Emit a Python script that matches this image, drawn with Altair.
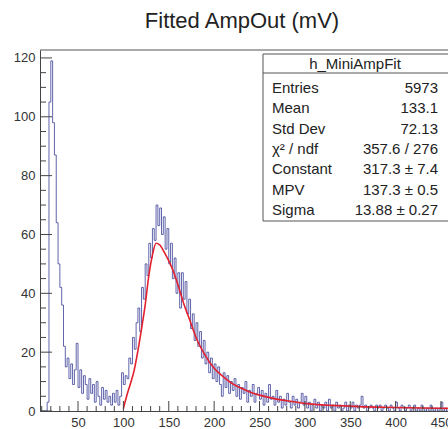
import altair as alt
import pandas as pd

# ---------------- data ----------------
title_text = "Fitted AmpOut (mV)"

bin_start = 8      # left edge of first bin
bin_width = 2
counts = [
    0, 0, 0, 0, 3, 105, 119, 98, 87, 64,
    50, 42, 36, 22, 15, 18, 11, 16, 9, 14,
    23, 8, 14, 6, 12, 9, 4, 11, 6, 9,
    3, 10, 5, 2, 8, 4, 7, 3, 5, 2,
    6, 3, 7, 2, 5, 13, 9, 12, 11, 18,
    16, 25, 21, 30, 35, 27, 42, 38, 50, 46,
    57, 52, 62, 58, 70, 63, 69, 60, 66, 55,
    62, 50, 57, 45, 52, 40, 47, 35, 47, 38,
    44, 33, 38, 28, 33, 24, 30, 22, 27, 18,
    24, 16, 20, 13, 18, 11, 16, 10, 15, 9,
    5, 13, 8, 12, 6, 10, 7, 11, 5, 9,
    4, 8, 6, 10, 3, 7, 5, 9, 3, 6,
    8, 4, 7, 2, 6, 3, 9, 4, 5, 2,
    7, 3, 5, 1, 4, 2, 6, 3, 1, 5,
    2, 4, 1, 3, 6, 2, 5, 1, 3, 0,
    2, 4, 1, 3, 0, 2, 1, 3, 0, 4,
    1, 2, 0, 3, 1, 2, 0, 1, 3, 0,
    2, 1, 3, 0, 2, 1, 2, 5, 1, 2,
    0, 1, 2, 1, 0, 2, 1, 2, 0, 1,
    2, 1, 0, 2, 1, 0, 3, 1, 0, 2,
    1, 0, 1, 2, 0, 1, 2, 0, 1, 0,
    2, 1, 0, 1, 0, 2, 1, 0, 1, 0,
    1, 3, 0, 1, 0,
]

fit_x = [100, 104, 108, 112, 116, 120, 124, 128, 132, 136, 140, 145, 150, 155,
         160, 166, 173, 180, 190, 200, 210, 220, 230, 240, 250, 265, 280, 300,
         330, 360, 400, 430, 458]
fit_y = [0.8, 5.5, 9.5, 14, 20.5, 28, 36, 46, 53, 57, 56.5, 54, 51, 47.5,
         43, 37, 31, 25, 19, 14.5, 11.7, 9.3, 7.7, 6.4, 5.4, 4.3, 3.5, 2.6,
         1.9, 1.5, 1.2, 1.0, 0.9]

x_labels = [50, 100, 150, 200, 250, 300, 350, 400, 450]
y_labels = [0, 20, 40, 60, 80, 100, 120]

stat_name = "h_MiniAmpFit"
stat_labels = ["Entries", "Mean", "Std Dev", "\u03c7\u00b2 / ndf", "Constant", "MPV", "Sigma"]
stat_values = ["5973", "133.1", "72.13", "357.6 / 276", "317.3 \u00b1 7.4",
               "137.3 \u00b1 0.5", "13.88 \u00b1 0.27"]

# ---------------- layout ----------------
W, H = 408, 361
XDOM = [8.1, 457.7]
YDOM = [0, 122.7]
FONT = "Liberation Sans"
AX = "#444444"

xs = alt.Scale(domain=XDOM, nice=False, zero=False)
ys = alt.Scale(domain=YDOM, nice=False, zero=True)

edges = [bin_start + bin_width * i for i in range(len(counts))]
hist_df = pd.DataFrame({"x": edges + [edges[-1] + bin_width],
                        "y": counts + [counts[-1]]})
fit_df = pd.DataFrame({"x": fit_x, "y": fit_y})

hist = alt.Chart(hist_df).mark_line(
    interpolate="step-after", color="#3a3f96", strokeWidth=1, opacity=0.8, clip=True
).encode(
    x=alt.X("x:Q", scale=xs, title=None,
            axis=alt.Axis(values=x_labels, ticks=False, labelFontSize=13, labelFont=FONT,
                          labelColor="#333333", labelPadding=5, domainColor=AX,
                          grid=False, labelFlush=False)),
    y=alt.Y("y:Q", scale=ys, title=None,
            axis=alt.Axis(values=y_labels, ticks=False, labelFontSize=13, labelFont=FONT,
                          labelColor="#333333", labelPadding=5, domainColor=AX,
                          grid=False, labelFlush=False)),
)

fit = alt.Chart(fit_df).mark_line(
    interpolate="monotone", color="#e3202e", strokeWidth=1.6, clip=True
).encode(x=alt.X("x:Q", scale=xs), y=alt.Y("y:Q", scale=ys))

# inward ticks (ROOT style)
ymaj = pd.DataFrame({"v": list(range(0, 121, 20))})
ymin = pd.DataFrame({"v": [v for v in range(0, 121, 5) if v % 20]})
xmaj = pd.DataFrame({"v": list(range(50, 451, 50))})
xmin = pd.DataFrame({"v": [v for v in range(10, 458, 10) if v % 50]})

ytick_maj = alt.Chart(ymaj).mark_rule(color=AX).encode(
    y=alt.Y("v:Q", scale=ys), x=alt.value(0), x2=alt.value(12))
ytick_min = alt.Chart(ymin).mark_rule(color=AX).encode(
    y=alt.Y("v:Q", scale=ys), x=alt.value(0), x2=alt.value(6))
xtick_maj = alt.Chart(xmaj).mark_rule(color=AX).encode(
    x=alt.X("v:Q", scale=xs), y=alt.value(H), y2=alt.value(H - 10))
xtick_min = alt.Chart(xmin).mark_rule(color=AX).encode(
    x=alt.X("v:Q", scale=xs), y=alt.value(H), y2=alt.value(H - 5))

one = pd.DataFrame({"a": [0]})
top_frame = alt.Chart(one).mark_rule(color="#555555").encode(
    x=alt.value(0), x2=alt.value(W + 2), y=alt.value(0))

# stat box
box = alt.Chart(one).mark_rect(fill="white", stroke="#555555", strokeWidth=1).encode(
    x=alt.value(223), x2=alt.value(W + 20), y=alt.value(4), y2=alt.value(171))
box_sep = alt.Chart(one).mark_rule(color="#555555").encode(
    x=alt.value(223), x2=alt.value(W + 20), y=alt.value(23))
box_head = alt.Chart(pd.DataFrame({"t": [stat_name]})).mark_text(
    font=FONT, fontSize=15, color="#222222", align="center", baseline="middle"
).encode(x=alt.value(315), y=alt.value(14), text="t:N")

stat_layers = []
for i, (lab, val) in enumerate(zip(stat_labels, stat_values)):
    yy = 38 + 20.3 * i
    stat_layers.append(alt.Chart(pd.DataFrame({"t": [lab]})).mark_text(
        font=FONT, fontSize=15, color="#222222", align="left", baseline="middle"
    ).encode(x=alt.value(232), y=alt.value(yy), text="t:N"))
    stat_layers.append(alt.Chart(pd.DataFrame({"t": [val]})).mark_text(
        font=FONT, fontSize=15, color="#222222", align="right", baseline="middle"
    ).encode(x=alt.value(398), y=alt.value(yy), text="t:N"))

title = alt.Chart(pd.DataFrame({"t": [title_text]})).mark_text(
    font=FONT, fontSize=22, color="#222222", align="center", baseline="middle"
).encode(x=alt.value(202), y=alt.value(-29), text="t:N")

chart = alt.layer(
    hist, fit, ytick_maj, ytick_min, xtick_maj, xtick_min, top_frame,
    box, box_sep, box_head, *stat_layers, title
).properties(
    width=W, height=H,
    padding={"left": 40, "top": 50, "right": 0, "bottom": 18},
    autosize=alt.AutoSizeParams(type="none"),
    background="white",
).configure_view(stroke=None)

chart.save("out.html", embed_options={"renderer": "svg", "actions": False})
